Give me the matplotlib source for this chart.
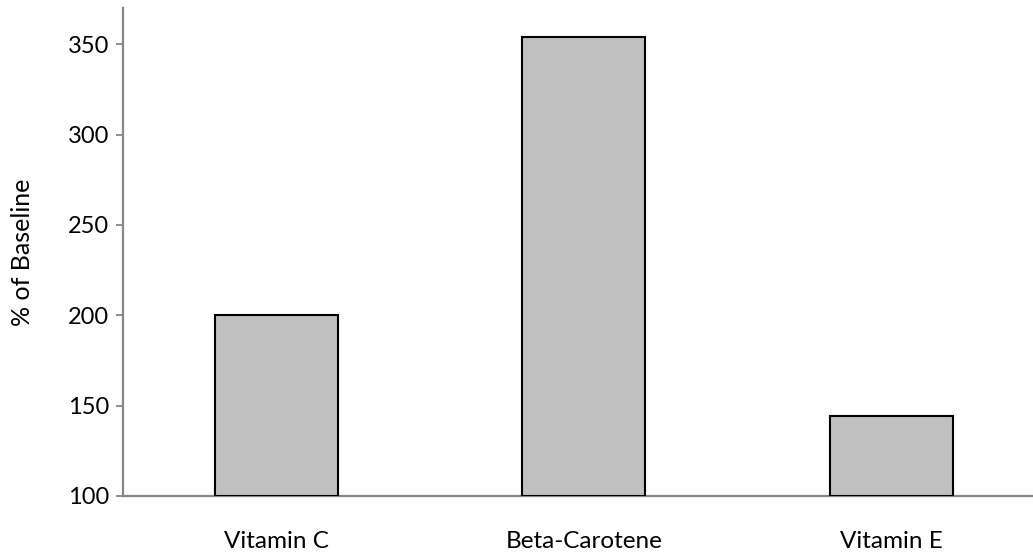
import matplotlib
matplotlib.use("Agg")
import matplotlib.pyplot as plt

categories = ["Vitamin C", "Beta-Carotene", "Vitamin E"]
values = [200, 354, 144.5]
y_ticks = [100, 150, 200, 250, 300, 350]

plt.rcParams['font.family'] = ['Lato', 'DejaVu Sans']

fig = plt.figure(figsize=(10.33, 5.56), dpi=100)
ax = fig.add_axes([123 / 1033, 1 - 496 / 556, (1044.75 - 123) / 1033, 488 / 556])

x = range(len(categories))
ax.bar(x, [v - 100 for v in values], bottom=100, width=0.4,
       color="#c0c0c0", edgecolor="black", linewidth=1.5, zorder=3)

ax.set_xlim(-0.5, 2.5)
ax.set_ylim(100, 370)
ax.set_xticks(list(x))
ax.set_xticklabels(categories, fontsize=17.5)
ax.set_yticks(y_ticks)
ax.tick_params(axis="x", length=0, pad=25)
ax.tick_params(axis="y", length=5, width=1.3, color="#868686", pad=5, labelsize=17)
ax.set_ylabel("% of Baseline", fontsize=18)
ax.yaxis.set_label_coords(-0.097, 0.5)

for side in ["top", "right"]:
    ax.spines[side].set_visible(False)
for side in ["left", "bottom"]:
    ax.spines[side].set_color("#868686")
    ax.spines[side].set_linewidth(1.6)

fig.savefig("out.png", dpi=100)
